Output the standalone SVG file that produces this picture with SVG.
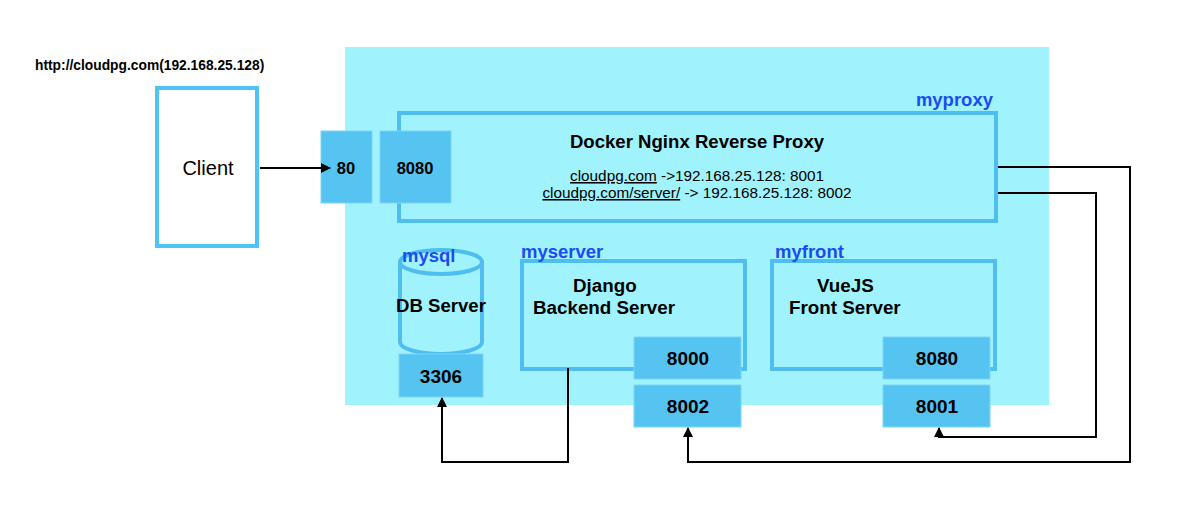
<svg xmlns="http://www.w3.org/2000/svg" width="1200" height="510" viewBox="0 0 1200 510">
<defs>
<style>
.t{font-family:"Liberation Sans",Arial,sans-serif;fill:#000}
.b{font-weight:bold}
.lbl{font-family:"Liberation Sans",Arial,sans-serif;font-weight:bold;fill:#1b4cf2;font-size:18.5px}
.port{fill:#55c4f1;stroke:#7fd4f5;stroke-width:1}
.box{fill:#a0f3fc;stroke:#4fbdef;stroke-width:4}
.conn{fill:none;stroke:#000;stroke-width:2}
</style>
<marker id="ah" viewBox="0 0 10 10" refX="9" refY="5" markerWidth="5" markerHeight="5" orient="auto-start-reverse" markerUnits="strokeWidth">
<path d="M0,0 L10,5 L0,10 z" fill="#000"/>
</marker>
</defs>
<rect width="1200" height="510" fill="#fff"/>
<g id="host">
<rect x="345" y="47" width="704" height="358" fill="#a0f3fc"/>
</g>
<text class="t b" x="35" y="70" font-size="13.8">http://cloudpg.com(192.168.25.128)</text>
<g id="client">
<rect x="157" y="88" width="100" height="158" fill="#fff" stroke="#4fc3f7" stroke-width="4"/>
<text class="t" x="208" y="175" font-size="20" text-anchor="middle">Client</text>
</g>
<g id="proxy">
<rect class="box" x="399" y="113" width="597" height="108"/>
<text class="lbl" x="993" y="106" text-anchor="end">myproxy</text>
<text class="t b" x="697" y="148" font-size="18.6" text-anchor="middle">Docker Nginx Reverse Proxy</text>
<text class="t" x="697" y="181" font-size="15.3" text-anchor="middle"><tspan text-decoration="underline">cloudpg.com</tspan> -&gt;192.168.25.128: 8001</text>
<text class="t" x="697" y="198" font-size="15.3" text-anchor="middle"><tspan text-decoration="underline">cloudpg.com/server/</tspan> -&gt; 192.168.25.128: 8002</text>
</g>
<g id="port80">
<rect class="port" x="321" y="131" width="51" height="72"/>
<text class="t b" x="346" y="174" font-size="16.5" text-anchor="middle">80</text>
</g>
<g id="port8080p">
<rect class="port" x="380" y="131" width="71" height="72"/>
<text class="t b" x="415" y="174" font-size="16.5" text-anchor="middle">8080</text>
</g>
<g id="mysql">
<path d="M400,262 L400,342 A41,12 0 0 0 482,342 L482,262 A41,12 0 0 0 400,262 A41,12 0 0 0 482,262" fill="#a0f3fc" stroke="#4fbdef" stroke-width="4"/>
<text class="lbl" x="402" y="262">mysql</text>
<text class="t b" x="441" y="312" font-size="18.6" text-anchor="middle">DB Server</text>
<rect class="port" x="399" y="354" width="84" height="43"/>
<text class="t b" x="441" y="383" font-size="19" text-anchor="middle">3306</text>
</g>
<g id="myserver">
<rect class="box" x="522" y="261" width="223" height="108" stroke-width="3.5"/>
<text class="lbl" x="521" y="258">myserver</text>
<text class="t b" x="573" y="292" font-size="18.8">Django</text>
<text class="t b" x="533" y="314" font-size="18.8">Backend Server</text>
<rect class="port" x="634" y="337" width="107" height="42"/>
<text class="t b" x="688" y="365" font-size="19" text-anchor="middle">8000</text>
<rect class="port" x="634" y="385" width="107" height="42"/>
<text class="t b" x="688" y="413" font-size="19" text-anchor="middle">8002</text>
</g>
<g id="myfront">
<rect class="box" x="772" y="261" width="223" height="108" stroke-width="3.5"/>
<text class="lbl" x="775" y="258">myfront</text>
<text class="t b" x="817" y="292" font-size="18.8">VueJS</text>
<text class="t b" x="789" y="314" font-size="18.8">Front Server</text>
<rect class="port" x="883" y="337" width="107" height="42"/>
<text class="t b" x="937" y="365" font-size="19" text-anchor="middle">8080</text>
<rect class="port" x="883" y="385" width="107" height="42"/>
<text class="t b" x="937" y="413" font-size="19" text-anchor="middle">8001</text>
</g>
<g id="connectors">
<path class="conn" d="M260,168 L330,168" marker-end="url(#ah)"/>
<path class="conn" d="M998,167 L1130,167 L1130,462 L688,462 L688,428" marker-end="url(#ah)"/>
<path class="conn" d="M998,193 L1096,193 L1096,437 L939,437 L939,428" marker-end="url(#ah)"/>
<path class="conn" d="M568,368 L568,462 L442,462 L442,398" marker-end="url(#ah)"/>
</g>
</svg>
